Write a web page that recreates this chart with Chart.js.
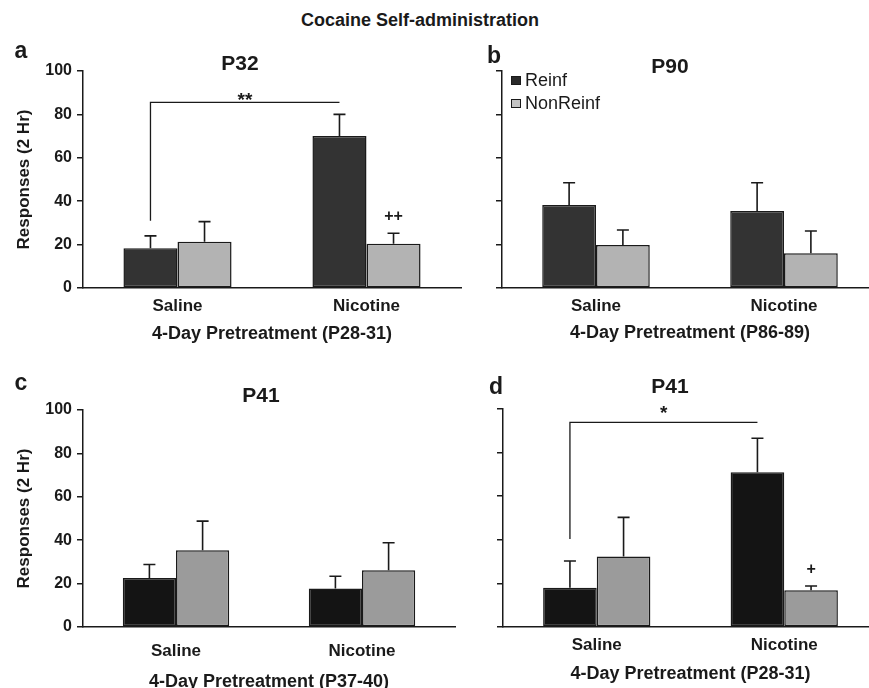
<!DOCTYPE html>
<html>
<head>
<meta charset="utf-8">
<title>Cocaine Self-administration</title>
<script src="https://cdn.jsdelivr.net/npm/chart.js@4.4.1/dist/chart.umd.min.js"></script>
<style>
    html, body { margin: 0; padding: 0; background: #fff; overflow: hidden; }
    #figure { position: relative; width: 869px; height: 688px; overflow: hidden;
              font-family: 'Liberation Sans', Arial, sans-serif; color: #1a1a1a; }
    #figure canvas { position: absolute; }
    .lbl { position: absolute; white-space: nowrap; line-height: 1; transform: translate(-50%, -50%); }
    .main-title { font-size: 18px; font-weight: bold; }
    .panel-letter { font-size: 23px; font-weight: bold; }
    .panel-title { font-size: 21px; font-weight: bold; }
    .leg-row { position: absolute; left: 511px; height: 20px; display: flex; align-items: center;
               font-size: 18px; white-space: nowrap; }
    .leg-box { width: 8px; height: 7px; border: 1px solid #1a1a1a; margin-right: 4px; }
</style>
</head>
<body>
<div id="figure">
    <canvas id="chartA"></canvas>
    <canvas id="chartB"></canvas>
    <canvas id="chartC"></canvas>
    <canvas id="chartD"></canvas>

    <div class="lbl main-title" style="left:420px; top:20px;">Cocaine Self-administration</div>

    <div class="lbl panel-letter" style="left:21px; top:50px;">a</div>
    <div class="lbl panel-letter" style="left:494px; top:55px;">b</div>
    <div class="lbl panel-letter" style="left:21px; top:382px;">c</div>
    <div class="lbl panel-letter" style="left:496px; top:386px;">d</div>

    <div class="lbl panel-title" style="left:240px; top:62px;">P32</div>
    <div class="lbl panel-title" style="left:670px; top:65px;">P90</div>
    <div class="lbl panel-title" style="left:261px; top:394px;">P41</div>
    <div class="lbl panel-title" style="left:670px; top:385px;">P41</div>

    <div class="leg-row" style="top:70px;"><span class="leg-box" style="background:#2a2a2a;"></span>Reinf</div>
    <div class="leg-row" style="top:93px;"><span class="leg-box" style="background:#c4c4c4;"></span>NonReinf</div>
</div>

<script>
// categories and tick labels
const categories = ['Saline', 'Nicotine'];
const seriesNames = ['Reinf', 'NonReinf'];
const yTickValues = [0, 20, 40, 60, 80, 100];

// a - P32, pretreatment P28-31
const reinfA = [18.3, 70.0];
const reinfErrA = [5.7, 10.0];
const nonReinfA = [21.3, 20.4];
const nonReinfErrA = [9.3, 4.8];

// b - P90, pretreatment P86-89
const reinfB = [38.2, 35.5];
const reinfErrB = [10.3, 13.0];
const nonReinfB = [19.8, 16.0];
const nonReinfErrB = [6.9, 10.3];

// c - P41, pretreatment P37-40
const reinfC = [22.6, 17.7];
const reinfErrC = [6.2, 5.7];
const nonReinfC = [35.4, 26.2];
const nonReinfErrC = [13.4, 12.6];

// d - P41, pretreatment P28-31
const reinfD = [18.0, 71.0];
const reinfErrD = [12.3, 15.6];
const nonReinfD = [32.3, 16.9];
const nonReinfErrD = [18.0, 1.9];

// significance marks (in response units)
const bracketA = { low: 31, high: 85.5, label: '**', labelAt: 88 };
const markA = { label: '++', at: 32.7 };
const bracketD = { low: 40.4, high: 93.9, label: '*', labelAt: 99.7 };
const markD = { label: '+', at: 26.2 };

const ink = '#1a1a1a';
const fontFamily = "'Liberation Sans', Arial, sans-serif";
Chart.defaults.font.family = fontFamily;
Chart.defaults.color = ink;

// error bars: only the upper half, with a cap
const errorBarPlugin = {
    id: 'errorBars',
    afterDatasetsDraw(chart) {
        const ctx = chart.ctx;
        const yScale = chart.scales.y;
        ctx.save();
        ctx.strokeStyle = ink;
        ctx.lineWidth = 1.6;
        chart.data.datasets.forEach((ds, i) => {
            chart.getDatasetMeta(i).data.forEach((bar, j) => {
                const top = yScale.getPixelForValue(ds.data[j] + ds.errors[j]);
                ctx.beginPath();
                ctx.moveTo(bar.x, bar.y);
                ctx.lineTo(bar.x, top);
                ctx.moveTo(bar.x - 6, top);
                ctx.lineTo(bar.x + 6, top);
                ctx.stroke();
            });
        });
        ctx.restore();
    }
};

// bracket between the two Reinf bars, plus the mark above Nicotine NonReinf
const sigPlugin = {
    id: 'sig',
    afterDatasetsDraw(chart, args, opts) {
        if (!opts || (!opts.bracket && !opts.mark)) return;
        const ctx = chart.ctx;
        const y = chart.scales.y;
        ctx.save();
        ctx.fillStyle = ink;
        ctx.strokeStyle = ink;
        ctx.textAlign = 'center';
        ctx.textBaseline = 'middle';
        if (opts.bracket) {
            const b = opts.bracket;
            const x1 = chart.getDatasetMeta(0).data[0].x;
            const x2 = chart.getDatasetMeta(0).data[1].x;
            const yLow = y.getPixelForValue(b.low);
            const yHigh = y.getPixelForValue(b.high);
            ctx.lineWidth = 1.3;
            ctx.beginPath();
            ctx.moveTo(x1, yLow);
            ctx.lineTo(x1, yHigh);
            ctx.lineTo(x2, yHigh);
            ctx.stroke();
            ctx.font = 'bold 19px ' + fontFamily;
            ctx.fillText(b.label, (x1 + x2) / 2, y.getPixelForValue(b.labelAt) + 4);
        }
        if (opts.mark) {
            const bar = chart.getDatasetMeta(1).data[1];
            ctx.font = 'bold 16px ' + fontFamily;
            ctx.fillText(opts.mark.label, bar.x, y.getPixelForValue(opts.mark.at));
        }
        ctx.restore();
    }
};

function makePanel(canvasId, box, panel) {
    const canvas = document.getElementById(canvasId);
    canvas.width = box.width;
    canvas.height = box.padTop + box.plotHeight + box.xHeight;
    canvas.style.left = box.left + 'px';
    canvas.style.top = box.top + 'px';

    return new Chart(canvas, {
        type: 'bar',
        data: {
            labels: categories,
            datasets: [
                {
                    label: seriesNames[0],
                    data: panel.reinf,
                    errors: panel.reinfErr,
                    backgroundColor: panel.colors[0],
                    borderColor: ink,
                    borderWidth: 1.5,
                    borderSkipped: false
                },
                {
                    label: seriesNames[1],
                    data: panel.nonReinf,
                    errors: panel.nonReinfErr,
                    backgroundColor: panel.colors[1],
                    borderColor: ink,
                    borderWidth: 1.5,
                    borderSkipped: false
                }
            ]
        },
        options: {
            responsive: false,
            animation: false,
            events: [],
            layout: { padding: { top: box.padTop, right: box.padRight, left: 0, bottom: 0 } },
            datasets: { bar: { categoryPercentage: 0.572, barPercentage: 1.0 } },
            scales: {
                x: {
                    afterFit: axis => { axis.height = box.xHeight; },
                    grid: { display: false },
                    border: { display: true, color: ink, width: 1.5 },
                    ticks: { padding: box.xTickPad, color: ink, font: { size: 17, weight: 'bold' } },
                    title: {
                        display: true,
                        text: panel.xTitle,
                        color: ink,
                        padding: { top: 0, bottom: 0 },
                        font: { size: 18, weight: 'bold' }
                    }
                },
                y: {
                    min: 0,
                    max: 100,
                    afterBuildTicks: axis => { axis.ticks = yTickValues.map(v => ({ value: v })); },
                    afterFit: axis => { axis.width = box.yWidth; },
                    grid: { drawOnChartArea: false, drawTicks: true, tickLength: 6, color: ink, lineWidth: 1.5 },
                    border: { display: true, color: ink, width: 1.5 },
                    ticks: { display: panel.showY, padding: 5, color: ink, font: { size: 16, weight: 'bold' } },
                    title: {
                        display: panel.showY,
                        text: 'Responses (2 Hr)',
                        color: ink,
                        padding: { top: 14, bottom: 0 },
                        font: { size: 17, weight: 'bold' }
                    }
                }
            },
            plugins: {
                legend: { display: false },
                title: { display: false },
                tooltip: { enabled: false },
                sig: { bracket: panel.bracket, mark: panel.mark }
            }
        },
        plugins: [errorBarPlugin, sigPlugin]
    });
}

const lightColors = ['#333333', '#b3b3b3'];
const darkColors = ['#141414', '#9b9b9b'];

makePanel('chartA',
    { left: 0, top: 40, width: 470, yWidth: 83, padTop: 31, padRight: 9, plotHeight: 217, xHeight: 57, xTickPad: 0 },
    { reinf: reinfA, reinfErr: reinfErrA, nonReinf: nonReinfA, nonReinfErr: nonReinfErrA,
      colors: lightColors, showY: true, xTitle: '4-Day Pretreatment (P28-31)', bracket: bracketA, mark: markA });

makePanel('chartB',
    { left: 420, top: 40, width: 470, yWidth: 82, padTop: 31, padRight: 12, plotHeight: 217, xHeight: 56, xTickPad: 0 },
    { reinf: reinfB, reinfErr: reinfErrB, nonReinf: nonReinfB, nonReinfErr: nonReinfErrB,
      colors: lightColors, showY: false, xTitle: '4-Day Pretreatment (P86-89)' });

makePanel('chartC',
    { left: 0, top: 370, width: 470, yWidth: 83, padTop: 40, padRight: 15, plotHeight: 217, xHeight: 66, xTickPad: 6 },
    { reinf: reinfC, reinfErr: reinfErrC, nonReinf: nonReinfC, nonReinfErr: nonReinfErrC,
      colors: darkColors, showY: true, xTitle: '4-Day Pretreatment (P37-40)' });

makePanel('chartD',
    { left: 420, top: 370, width: 470, yWidth: 83, padTop: 39, padRight: 12, plotHeight: 218, xHeight: 58, xTickPad: 0 },
    { reinf: reinfD, reinfErr: reinfErrD, nonReinf: nonReinfD, nonReinfErr: nonReinfErrD,
      colors: darkColors, showY: false, xTitle: '4-Day Pretreatment (P28-31)', bracket: bracketD, mark: markD });
</script>
</body>
</html>
